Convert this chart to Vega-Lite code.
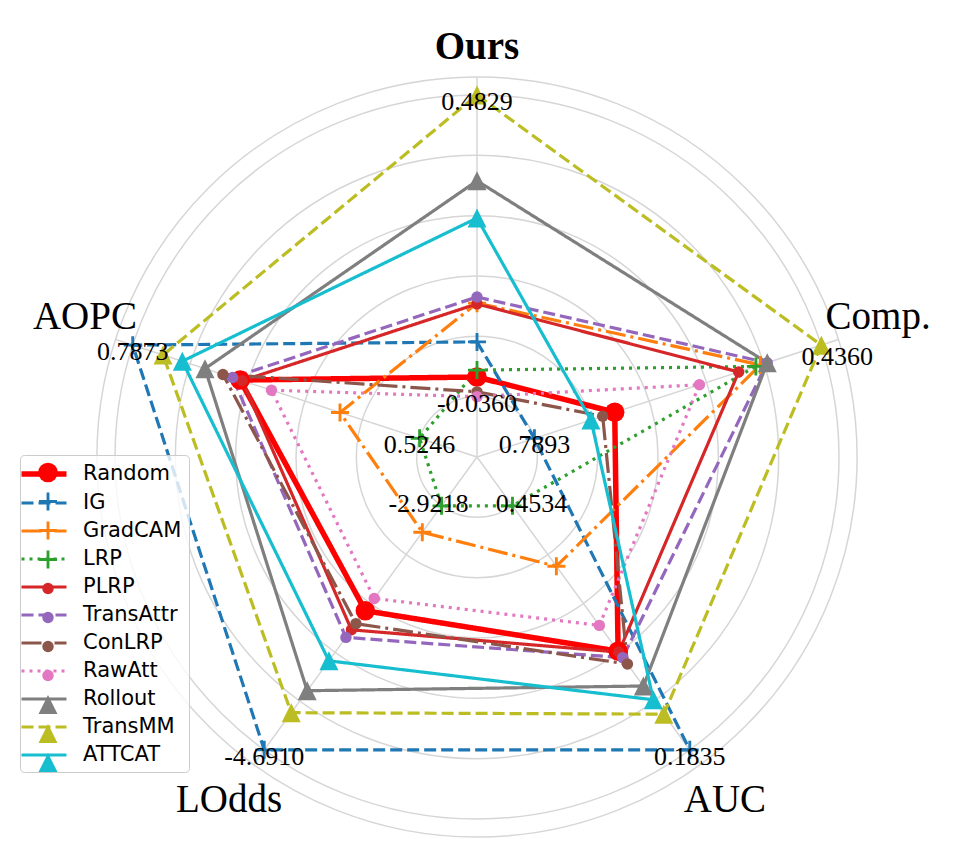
{
  "$schema": "https://vega.github.io/schema/vega-lite/v6.json",
  "width": 953,
  "height": 858,
  "autosize": {"type": "none"},
  "padding": 0,
  "background": "white",
  "config": {"view": {"stroke": null}},
  "datasets": {
    "scores": [
      {"method": "Random", "axis": "Ours", "r": 0.221},
      {"method": "Random", "axis": "Comp.", "r": 0.40},
      {"method": "Random", "axis": "AUC", "r": 0.663},
      {"method": "Random", "axis": "LOdds", "r": 0.525},
      {"method": "Random", "axis": "AOPC", "r": 0.688},
      {"method": "IG", "axis": "Ours", "r": 0.318},
      {"method": "IG", "axis": "Comp.", "r": 0.1667},
      {"method": "IG", "axis": "AUC", "r": 1.0},
      {"method": "IG", "axis": "LOdds", "r": 1.0},
      {"method": "IG", "axis": "AOPC", "r": 1.0},
      {"method": "GradCAM", "axis": "Ours", "r": 0.425},
      {"method": "GradCAM", "axis": "Comp.", "r": 0.823},
      {"method": "GradCAM", "axis": "AUC", "r": 0.373},
      {"method": "GradCAM", "axis": "LOdds", "r": 0.257},
      {"method": "GradCAM", "axis": "AOPC", "r": 0.398},
      {"method": "LRP", "axis": "Ours", "r": 0.240},
      {"method": "LRP", "axis": "Comp.", "r": 0.81},
      {"method": "LRP", "axis": "AUC", "r": 0.1667},
      {"method": "LRP", "axis": "LOdds", "r": 0.1667},
      {"method": "LRP", "axis": "AOPC", "r": 0.1667},
      {"method": "PLRP", "axis": "Ours", "r": 0.423},
      {"method": "PLRP", "axis": "Comp.", "r": 0.76},
      {"method": "PLRP", "axis": "AUC", "r": 0.666},
      {"method": "PLRP", "axis": "LOdds", "r": 0.59},
      {"method": "PLRP", "axis": "AOPC", "r": 0.682},
      {"method": "TransAttr", "axis": "Ours", "r": 0.442},
      {"method": "TransAttr", "axis": "Comp.", "r": 0.843},
      {"method": "TransAttr", "axis": "AUC", "r": 0.685},
      {"method": "TransAttr", "axis": "LOdds", "r": 0.616},
      {"method": "TransAttr", "axis": "AOPC", "r": 0.71},
      {"method": "ConLRP", "axis": "Ours", "r": 0.18},
      {"method": "ConLRP", "axis": "Comp.", "r": 0.365},
      {"method": "ConLRP", "axis": "AUC", "r": 0.707},
      {"method": "ConLRP", "axis": "LOdds", "r": 0.569},
      {"method": "ConLRP", "axis": "AOPC", "r": 0.738},
      {"method": "RawAtt", "axis": "Ours", "r": 0.1667},
      {"method": "RawAtt", "axis": "Comp.", "r": 0.646},
      {"method": "RawAtt", "axis": "AUC", "r": 0.575},
      {"method": "RawAtt", "axis": "LOdds", "r": 0.483},
      {"method": "RawAtt", "axis": "AOPC", "r": 0.597},
      {"method": "Rollout", "axis": "Ours", "r": 0.763},
      {"method": "Rollout", "axis": "Comp.", "r": 0.843},
      {"method": "Rollout", "axis": "AUC", "r": 0.782},
      {"method": "Rollout", "axis": "LOdds", "r": 0.798},
      {"method": "Rollout", "axis": "AOPC", "r": 0.79},
      {"method": "TransMM", "axis": "Ours", "r": 1.0},
      {"method": "TransMM", "axis": "Comp.", "r": 1.0},
      {"method": "TransMM", "axis": "AUC", "r": 0.878},
      {"method": "TransMM", "axis": "LOdds", "r": 0.873},
      {"method": "TransMM", "axis": "AOPC", "r": 0.912},
      {"method": "ATTCAT", "axis": "Ours", "r": 0.66},
      {"method": "ATTCAT", "axis": "Comp.", "r": 0.331},
      {"method": "ATTCAT", "axis": "AUC", "r": 0.829},
      {"method": "ATTCAT", "axis": "LOdds", "r": 0.696},
      {"method": "ATTCAT", "axis": "AOPC", "r": 0.856}
    ],
    "rings": [
      {"ring": 0.1667}, {"ring": 0.3333}, {"ring": 0.5}, {"ring": 0.6667},
      {"ring": 0.8333}, {"ring": 1.0}, {"ring": 1.05}
    ],
    "axes": [
      {"axis": "Ours"}, {"axis": "Comp."}, {"axis": "AUC"}, {"axis": "LOdds"}, {"axis": "AOPC"}
    ],
    "ticks": [
      {"axis": "Ours", "label": "0.4829", "r": 1.0},
      {"axis": "Comp.", "label": "0.4360", "r": 1.0},
      {"axis": "AUC", "label": "0.1835", "r": 1.0},
      {"axis": "LOdds", "label": "-4.6910", "r": 1.0},
      {"axis": "AOPC", "label": "0.7873", "r": 1.0},
      {"axis": "Ours", "label": "-0.0360", "r": 0.1667},
      {"axis": "Comp.", "label": "0.7893", "r": 0.1667},
      {"axis": "AUC", "label": "0.4534", "r": 0.1667},
      {"axis": "LOdds", "label": "-2.9218", "r": 0.1667},
      {"axis": "AOPC", "label": "0.5246", "r": 0.1667}
    ]
  },
  "layer": [
    {
      "data": {"name": "rings"},
      "transform": [
        {"calculate": "0", "as": "cx"},
        {"calculate": "0", "as": "cy"},
        {"calculate": "pow(datum.ring * 724, 2)", "as": "sz"}
      ],
      "mark": {"type": "point", "shape": "circle", "filled": false, "stroke": "#d6d6d6", "strokeWidth": 1.5, "opacity": 1},
      "encoding": {
        "x": {"field": "cx", "type": "quantitative", "scale": {"domain": [-1.3177, 1.3149], "nice": false, "zero": false}, "axis": null},
        "y": {"field": "cy", "type": "quantitative", "scale": {"domain": [-1.1077, 1.2624], "nice": false, "zero": false}, "axis": null},
        "size": {"field": "sz", "type": "quantitative", "scale": null}
      }
    },
    {
      "data": {"name": "axes"},
      "transform": [
        {"calculate": "indexof(['Ours','Comp.','AUC','LOdds','AOPC'], datum.axis) * 2 * PI / 5", "as": "ang"},
        {"calculate": "0", "as": "cx"},
        {"calculate": "0", "as": "cy"},
        {"calculate": "1.05 * sin(datum.ang)", "as": "ex"},
        {"calculate": "1.05 * cos(datum.ang)", "as": "ey"}
      ],
      "mark": {"type": "rule", "color": "#d6d6d6", "strokeWidth": 1.5},
      "encoding": {
        "x": {"field": "cx", "type": "quantitative", "scale": {"domain": [-1.3177, 1.3149], "nice": false, "zero": false}, "axis": null},
        "y": {"field": "cy", "type": "quantitative", "scale": {"domain": [-1.1077, 1.2624], "nice": false, "zero": false}, "axis": null},
        "x2": {"field": "ex"},
        "y2": {"field": "ey"}
      }
    },
    {
      "data": {"name": "scores"},
      "transform": [
        {"calculate": "indexof(['Ours','Comp.','AUC','LOdds','AOPC'], datum.axis)", "as": "idx"},
        {"calculate": "datum.idx * 2 * PI / 5", "as": "ang"},
        {"calculate": "datum.r * sin(datum.ang)", "as": "px"},
        {"calculate": "datum.r * cos(datum.ang)", "as": "py"}
      ],
      "mark": {"type": "line", "interpolate": "linear-closed"},
      "encoding": {
        "x": {"field": "px", "type": "quantitative", "scale": {"domain": [-1.3177, 1.3149], "nice": false, "zero": false}, "axis": null},
        "y": {"field": "py", "type": "quantitative", "scale": {"domain": [-1.1077, 1.2624], "nice": false, "zero": false}, "axis": null},
        "order": {"field": "idx", "type": "quantitative"},
        "stroke": {
          "field": "method", "type": "nominal",
          "scale": {
            "domain": ["Random", "IG", "GradCAM", "LRP", "PLRP", "TransAttr", "ConLRP", "RawAtt", "Rollout", "TransMM", "ATTCAT"],
            "range": ["#ff0000", "#1f77b4", "#ff7f0e", "#2ca02c", "#d62728", "#9467bd", "#8c564b", "#e377c2", "#7f7f7f", "#bcbd22", "#17becf"]
          },
          "legend": {
            "title": null, "orient": "none", "legendX": 20, "legendY": 455,
            "symbolType": "M-2.5,0H2.5", "symbolSize": 324, "symbolStrokeWidth": 3.2, "symbolOffset": 5,
            "labelOffset": 27, "labelFont": "DejaVu Sans", "labelFontSize": 21, "labelColor": "#000000",
            "rowPadding": 7, "padding": 7, "fillColor": "rgba(255,255,255,0.8)", "strokeColor": "#cccccc",
            "cornerRadius": 4, "zindex": 1
          }
        },
        "strokeDash": {
          "field": "method", "type": "nominal",
          "scale": {
            "domain": ["Random", "IG", "GradCAM", "LRP", "PLRP", "TransAttr", "ConLRP", "RawAtt", "Rollout", "TransMM", "ATTCAT"],
            "range": [[1, 0], [12, 5], [20, 5, 3, 5], [3, 5], [1, 0], [12, 5], [20, 5, 3, 5], [3, 5], [1, 0], [12, 5], [1, 0]]
          },
          "legend": {
            "title": null, "orient": "none", "legendX": 20, "legendY": 455,
            "symbolType": "M-2.5,0H2.5", "symbolSize": 324, "symbolStrokeWidth": 3.2, "symbolOffset": 5,
            "labelOffset": 27, "labelFont": "DejaVu Sans", "labelFontSize": 21, "labelColor": "#000000",
            "rowPadding": 7, "padding": 7, "fillColor": "rgba(255,255,255,0.8)", "strokeColor": "#cccccc",
            "cornerRadius": 4, "zindex": 1
          }
        },
        "strokeWidth": {
          "field": "method", "type": "nominal",
          "scale": {
            "type": "ordinal",
            "domain": ["Random", "IG", "GradCAM", "LRP", "PLRP", "TransAttr", "ConLRP", "RawAtt", "Rollout", "TransMM", "ATTCAT"],
            "range": [5.5, 3.2, 3.2, 3.2, 3.2, 3.2, 3.2, 3.2, 3.2, 3.2, 3.2]
          },
          "legend": {
            "title": null, "orient": "none", "legendX": 20, "legendY": 455,
            "symbolType": "M-2.5,0H2.5", "symbolSize": 324, "symbolOffset": 5,
            "labelOffset": 27, "labelFont": "DejaVu Sans", "labelFontSize": 21, "labelColor": "#000000",
            "rowPadding": 7, "padding": 7, "fillColor": "rgba(255,255,255,0.8)", "strokeColor": "#cccccc",
            "cornerRadius": 4, "zindex": 1
          }
        }
      }
    },
    {
      "data": {"name": "scores"},
      "transform": [
        {"calculate": "indexof(['Ours','Comp.','AUC','LOdds','AOPC'], datum.axis)", "as": "idx"},
        {"calculate": "datum.idx * 2 * PI / 5", "as": "ang"},
        {"calculate": "datum.r * sin(datum.ang)", "as": "px"},
        {"calculate": "datum.r * cos(datum.ang)", "as": "py"}
      ],
      "mark": {"type": "point", "filled": true, "opacity": 1, "strokeWidth": 0},
      "encoding": {
        "x": {"field": "px", "type": "quantitative", "scale": {"domain": [-1.3177, 1.3149], "nice": false, "zero": false}, "axis": null},
        "y": {"field": "py", "type": "quantitative", "scale": {"domain": [-1.1077, 1.2624], "nice": false, "zero": false}, "axis": null},
        "fill": {
          "field": "method", "type": "nominal", "sort": null,
          "scale": {"range": ["#ff0000", "#1f77b4", "#ff7f0e", "#2ca02c", "#d62728", "#9467bd", "#8c564b", "#e377c2", "#7f7f7f", "#bcbd22", "#17becf"]},
          "legend": {
            "title": null, "orient": "none", "legendX": 20, "legendY": 455,
            "symbolStrokeWidth": 0, "symbolOffset": 10.5, "symbolOpacity": 1,
            "labelOffset": 27, "labelFont": "DejaVu Sans", "labelFontSize": 21, "labelExpr": "' '",
            "rowPadding": 7, "padding": 7, "zindex": 2
          }
        },
        "shape": {
          "field": "method", "type": "nominal", "sort": null,
          "scale": {"range": [
            "circle",
            "M-1,-0.16H1V0.16H-1Z M-0.16,-1H0.16V1H-0.16Z",
            "M-1,-0.16H1V0.16H-1Z M-0.16,-1H0.16V1H-0.16Z",
            "M-1,-0.16H1V0.16H-1Z M-0.16,-1H0.16V1H-0.16Z",
            "circle", "circle", "circle", "circle",
            "M0,-1L-1,1L1,1Z", "M0,-1L-1,1L1,1Z", "M0,-1L-1,1L1,1Z"
          ]},
          "legend": {
            "title": null, "orient": "none", "legendX": 20, "legendY": 455,
            "symbolStrokeWidth": 0, "symbolOffset": 10.5, "symbolOpacity": 1,
            "labelOffset": 27, "labelFont": "DejaVu Sans", "labelFontSize": 21, "labelExpr": "' '",
            "rowPadding": 7, "padding": 7, "zindex": 2
          }
        },
        "size": {
          "field": "method", "type": "nominal", "sort": null,
          "scale": {"type": "ordinal", "range": [380, 324, 324, 324, 130, 130, 130, 130, 361, 361, 361]},
          "legend": {
            "title": null, "orient": "none", "legendX": 20, "legendY": 455,
            "symbolStrokeWidth": 0, "symbolOffset": 10.5, "symbolOpacity": 1,
            "labelOffset": 27, "labelFont": "DejaVu Sans", "labelFontSize": 21, "labelExpr": "' '",
            "rowPadding": 7, "padding": 7, "zindex": 2
          }
        }
      }
    },
    {
      "data": {"name": "ticks"},
      "transform": [
        {"filter": "indexof(['0.4534','-2.9218','0.4360'], datum.label) < 0"},
        {"calculate": "indexof(['Ours','Comp.','AUC','LOdds','AOPC'], datum.axis) * 2 * PI / 5", "as": "ang"},
        {"calculate": "datum.r * sin(datum.ang)", "as": "px"},
        {"calculate": "datum.r * cos(datum.ang)", "as": "py"}
      ],
      "mark": {"type": "text", "font": "Liberation Serif", "fontSize": 26, "color": "#000000", "align": "center", "baseline": "middle", "dy": 7},
      "encoding": {
        "x": {"field": "px", "type": "quantitative", "scale": {"domain": [-1.3177, 1.3149], "nice": false, "zero": false}, "axis": null},
        "y": {"field": "py", "type": "quantitative", "scale": {"domain": [-1.1077, 1.2624], "nice": false, "zero": false}, "axis": null},
        "text": {"field": "label", "type": "nominal"}
      }
    },
    {
      "data": {"name": "ticks"},
      "transform": [
        {"filter": "datum.label === '0.4534'"},
        {"calculate": "indexof(['Ours','Comp.','AUC','LOdds','AOPC'], datum.axis) * 2 * PI / 5", "as": "ang"},
        {"calculate": "datum.r * sin(datum.ang)", "as": "px"},
        {"calculate": "datum.r * cos(datum.ang)", "as": "py"}
      ],
      "mark": {"type": "text", "font": "Liberation Serif", "fontSize": 26, "color": "#000000", "align": "center", "baseline": "middle", "dy": -2, "dx": 19},
      "encoding": {
        "x": {"field": "px", "type": "quantitative", "scale": {"domain": [-1.3177, 1.3149], "nice": false, "zero": false}, "axis": null},
        "y": {"field": "py", "type": "quantitative", "scale": {"domain": [-1.1077, 1.2624], "nice": false, "zero": false}, "axis": null},
        "text": {"field": "label", "type": "nominal"}
      }
    },
    {
      "data": {"name": "ticks"},
      "transform": [
        {"filter": "datum.label === '-2.9218'"},
        {"calculate": "indexof(['Ours','Comp.','AUC','LOdds','AOPC'], datum.axis) * 2 * PI / 5", "as": "ang"},
        {"calculate": "datum.r * sin(datum.ang)", "as": "px"},
        {"calculate": "datum.r * cos(datum.ang)", "as": "py"}
      ],
      "mark": {"type": "text", "font": "Liberation Serif", "fontSize": 26, "color": "#000000", "align": "center", "baseline": "middle", "dy": -2, "dx": -13},
      "encoding": {
        "x": {"field": "px", "type": "quantitative", "scale": {"domain": [-1.3177, 1.3149], "nice": false, "zero": false}, "axis": null},
        "y": {"field": "py", "type": "quantitative", "scale": {"domain": [-1.1077, 1.2624], "nice": false, "zero": false}, "axis": null},
        "text": {"field": "label", "type": "nominal"}
      }
    },
    {
      "data": {"name": "ticks"},
      "transform": [
        {"filter": "datum.label === '0.4360'"},
        {"calculate": "indexof(['Ours','Comp.','AUC','LOdds','AOPC'], datum.axis) * 2 * PI / 5", "as": "ang"},
        {"calculate": "datum.r * sin(datum.ang)", "as": "px"},
        {"calculate": "datum.r * cos(datum.ang)", "as": "py"}
      ],
      "mark": {"type": "text", "font": "Liberation Serif", "fontSize": 26, "color": "#000000", "align": "center", "baseline": "middle", "dy": 12, "dx": 16},
      "encoding": {
        "x": {"field": "px", "type": "quantitative", "scale": {"domain": [-1.3177, 1.3149], "nice": false, "zero": false}, "axis": null},
        "y": {"field": "py", "type": "quantitative", "scale": {"domain": [-1.1077, 1.2624], "nice": false, "zero": false}, "axis": null},
        "text": {"field": "label", "type": "nominal"}
      }
    },
    {
      "data": {"name": "axes"},
      "transform": [
        {"filter": "datum.axis === 'AUC' || datum.axis === 'LOdds'"},
        {"calculate": "indexof(['Ours','Comp.','AUC','LOdds','AOPC'], datum.axis) * 2 * PI / 5", "as": "ang"},
        {"calculate": "1.165 * sin(datum.ang)", "as": "px"},
        {"calculate": "1.165 * cos(datum.ang)", "as": "py"}
      ],
      "mark": {"type": "text", "font": "Liberation Serif", "fontSize": 39, "color": "#000000", "align": "center", "baseline": "middle", "dy": 2},
      "encoding": {
        "x": {"field": "px", "type": "quantitative", "scale": {"domain": [-1.3177, 1.3149], "nice": false, "zero": false}, "axis": null},
        "y": {"field": "py", "type": "quantitative", "scale": {"domain": [-1.1077, 1.2624], "nice": false, "zero": false}, "axis": null},
        "text": {"field": "axis", "type": "nominal"}
      }
    },
    {
      "data": {"name": "axes"},
      "transform": [
        {"filter": "datum.axis === 'Comp.'"},
        {"calculate": "indexof(['Ours','Comp.','AUC','LOdds','AOPC'], datum.axis) * 2 * PI / 5", "as": "ang"},
        {"calculate": "1.165 * sin(datum.ang)", "as": "px"},
        {"calculate": "1.165 * cos(datum.ang)", "as": "py"}
      ],
      "mark": {"type": "text", "font": "Liberation Serif", "fontSize": 39, "color": "#000000", "align": "center", "baseline": "middle", "dy": -10},
      "encoding": {
        "x": {"field": "px", "type": "quantitative", "scale": {"domain": [-1.3177, 1.3149], "nice": false, "zero": false}, "axis": null},
        "y": {"field": "py", "type": "quantitative", "scale": {"domain": [-1.1077, 1.2624], "nice": false, "zero": false}, "axis": null},
        "text": {"field": "axis", "type": "nominal"}
      }
    },
    {
      "data": {"name": "axes"},
      "transform": [
        {"filter": "datum.axis === 'AOPC'"},
        {"calculate": "indexof(['Ours','Comp.','AUC','LOdds','AOPC'], datum.axis) * 2 * PI / 5", "as": "ang"},
        {"calculate": "1.165 * sin(datum.ang)", "as": "px"},
        {"calculate": "1.165 * cos(datum.ang)", "as": "py"}
      ],
      "mark": {"type": "text", "font": "Liberation Serif", "fontSize": 39, "color": "#000000", "align": "center", "baseline": "middle", "dy": -10, "dx": 9},
      "encoding": {
        "x": {"field": "px", "type": "quantitative", "scale": {"domain": [-1.3177, 1.3149], "nice": false, "zero": false}, "axis": null},
        "y": {"field": "py", "type": "quantitative", "scale": {"domain": [-1.1077, 1.2624], "nice": false, "zero": false}, "axis": null},
        "text": {"field": "axis", "type": "nominal"}
      }
    },
    {
      "data": {"name": "axes"},
      "transform": [
        {"filter": "datum.axis === 'Ours'"},
        {"calculate": "indexof(['Ours','Comp.','AUC','LOdds','AOPC'], datum.axis) * 2 * PI / 5", "as": "ang"},
        {"calculate": "1.133 * sin(datum.ang)", "as": "px"},
        {"calculate": "1.133 * cos(datum.ang)", "as": "py"}
      ],
      "mark": {"type": "text", "font": "Liberation Serif", "fontSize": 39, "fontWeight": "bold", "color": "#000000", "align": "center", "baseline": "middle"},
      "encoding": {
        "x": {"field": "px", "type": "quantitative", "scale": {"domain": [-1.3177, 1.3149], "nice": false, "zero": false}, "axis": null},
        "y": {"field": "py", "type": "quantitative", "scale": {"domain": [-1.1077, 1.2624], "nice": false, "zero": false}, "axis": null},
        "text": {"field": "axis", "type": "nominal"}
      }
    }
  ]
}
